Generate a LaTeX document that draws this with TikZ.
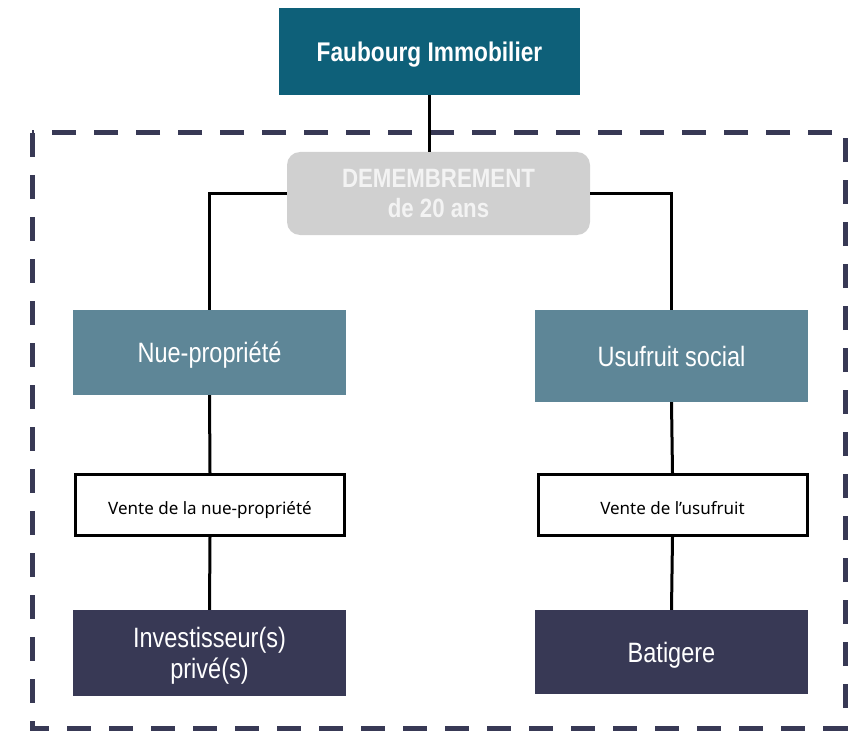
\documentclass[tikz,border=0pt]{standalone}
\usepackage{fontspec}
\setmainfont{Liberation Sans}
\newfontfamily\condfont{Liberation Sans}[FakeStretch=0.84]
\newfontfamily\ventefont{Noto Sans}
\definecolor{teal}{RGB}{14,96,121}
\definecolor{slate}{RGB}{94,134,151}
\definecolor{navy}{RGB}{56,57,85}
\definecolor{lgray}{RGB}{208,208,208}
\definecolor{ltext}{RGB}{243,243,243}
\tikzset{
  topbox/.style={fill=teal, text=white, minimum width=301pt, minimum height=87pt, inner sep=0pt, text height=19.3pt, text depth=0pt, font=\condfont\bfseries\fontsize{27}{30}\selectfont},
  grbox/.style={fill=lgray, text=ltext, rounded corners=13pt, minimum width=303pt, minimum height=83pt, inner sep=0pt, align=center, font=\condfont\bfseries\fontsize{26.5}{30}\selectfont},
  midbox/.style={fill=slate, text=white, minimum width=273pt, inner sep=0pt, text height=20pt, text depth=0pt, font=\condfont\fontsize{28}{31}\selectfont},
  salebox/.style={draw=black, line width=3pt, fill=white, minimum width=269pt, minimum height=61pt, inner sep=0pt, text height=18pt, text depth=0pt, font=\ventefont\fontsize{17}{20}\selectfont},
  endbox/.style={fill=navy, text=white, minimum width=273pt, inner sep=0pt, align=center, font=\condfont\fontsize{28}{31}\selectfont},
  link/.style={draw=black, line width=3pt},
  frame/.style={draw=navy, line width=5pt, dash pattern=on 24pt off 18pt}
}
\begin{document}
\begin{tikzpicture}[x=1pt,y=-1pt]
\useasboundingbox (0,0) rectangle (849,733);
\draw[frame] (32,133) rectangle (845,728);
\node[topbox] (fi) at (429.5,51.5) {Faubourg Immobilier};
\node[grbox] (dem) at (438.5,193.5) {DEMEMBREMENT\\de 20 ans};
\node[midbox, minimum height=85pt] (nue) at (209.5,352.5) {Nue-propriété};
\node[midbox, minimum height=92pt] (usu) at (671.5,356) {Usufruit social};
\node[salebox] (vnue) at (210,505) {Vente de la nue-propriété};
\node[salebox] (vusu) at (672.5,505) {Vente de l’usufruit};
\node[endbox, minimum height=86pt] (inv) at (209.5,653) {Investisseur(s)\\\smash{privé(s)}};
\node[endbox, minimum height=84pt, text height=20pt, text depth=0pt] (bat) at (671.5,652) {Batigere};
\draw[link] (fi.south) -- (fi.south |- dem.north);
\draw[link] (dem.west) -| (nue.north);
\draw[link] (dem.east) -| (usu.north);
\draw[link] (nue.south) -- (vnue.north);
\draw[link] (vnue.south) -- (inv.north);
\draw[link] (usu.south) -- (vusu.north);
\draw[link] (vusu.south) -- (bat.north);
\end{tikzpicture}
\end{document}
